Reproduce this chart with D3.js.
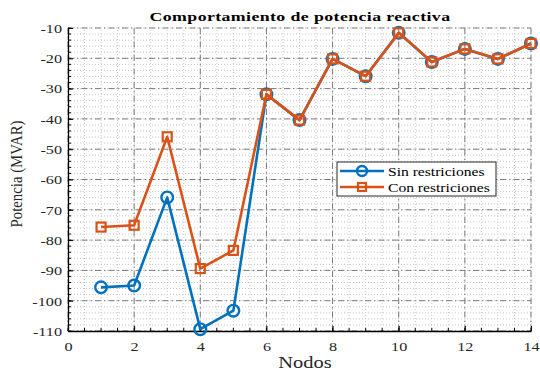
<!DOCTYPE html>
<html>
<head>
<meta charset="utf-8">
<script src="https://cdn.jsdelivr.net/npm/d3@7"></script>
<style>
  body { margin: 0; background: #fff; }
  text { font-family: "Liberation Serif", "Times New Roman", serif; }
</style>
</head>
<body>
<script>
// data
var nodos = [1, 2, 3, 4, 5, 6, 7, 8, 9, 10, 11, 12, 13, 14];
var sinRestr = [-95.6, -95.0, -65.9, -109.4, -103.3, -31.9, -40.4, -20.2, -25.9, -11.6, -21.2, -16.9, -20.2, -15.1];
var conRestr = [-75.7, -75.1, -45.9, -89.4, -83.4, -31.9, -40.4, -20.2, -25.9, -11.6, -21.2, -16.9, -20.2, -15.1];
var xTicks = [0, 2, 4, 6, 8, 10, 12, 14];
var yTicks = [-10, -20, -30, -40, -50, -60, -70, -80, -90, -100, -110];

var w = 540, h = 371;
var margin = { left: 68, right: 9, top: 28, bottom: 40 };
var stretch = 1.2; // reference text is a bit wider than normal

var svg = d3.select("body").append("svg")
    .attr("width", w)
    .attr("height", h);

var x = d3.scaleLinear().domain([0, 14]).range([margin.left, w - margin.right]);
var y = d3.scaleLinear().domain([-110, -10]).range([h - margin.bottom, margin.top]);

var x0 = x.range()[0], x1 = x.range()[1], y0 = y.range()[0], y1 = y.range()[1];

// minor grid (dotted)
var xMinor = d3.range(0, 14.01, 0.5);
var yMinor = d3.range(-110, -9.99, 2);
svg.append("g").selectAll("line").data(xMinor).enter().append("line")
    .attr("x1", d => x(d)).attr("x2", d => x(d))
    .attr("y1", y0).attr("y2", y1)
    .attr("stroke", "#c8c8c8").attr("stroke-width", 1).attr("stroke-dasharray", "1,2");
svg.append("g").selectAll("line").data(yMinor).enter().append("line")
    .attr("x1", x0).attr("x2", x1)
    .attr("y1", d => y(d)).attr("y2", d => y(d))
    .attr("stroke", "#c8c8c8").attr("stroke-width", 1).attr("stroke-dasharray", "1,2");

// major grid (dash-dot)
svg.append("g").selectAll("line").data(xTicks).enter().append("line")
    .attr("x1", d => x(d)).attr("x2", d => x(d))
    .attr("y1", y0).attr("y2", y1)
    .attr("stroke", "#7a7a7a").attr("stroke-width", 1).attr("stroke-dasharray", "6,3,1.5,3");
svg.append("g").selectAll("line").data(yTicks).enter().append("line")
    .attr("x1", x0).attr("x2", x1)
    .attr("y1", d => y(d)).attr("y2", d => y(d))
    .attr("stroke", "#7a7a7a").attr("stroke-width", 1).attr("stroke-dasharray", "6,3,1.5,3");

// axes with ticks pointing inward
var xAxis = d3.axisBottom(x).tickValues(xTicks).tickSize(-5).tickPadding(10).tickSizeOuter(0);
var yAxis = d3.axisLeft(y).tickValues(yTicks).tickSize(-5).tickPadding(6).tickSizeOuter(0)
    .tickFormat(d => String(d)); // plain hyphen like the reference

var gx = svg.append("g").attr("transform", "translate(0," + y0 + ")").call(xAxis);
var gy = svg.append("g").attr("transform", "translate(" + x0 + ",0)").call(yAxis);

// minor ticks
gx.append("g").selectAll("line").data(xMinor).enter().append("line")
    .attr("x1", d => x(d)).attr("x2", d => x(d)).attr("y1", 0).attr("y2", -3)
    .attr("stroke", "#000");
gy.append("g").selectAll("line").data(yMinor).enter().append("line")
    .attr("y1", d => y(d)).attr("y2", d => y(d)).attr("x1", 0).attr("x2", 3)
    .attr("stroke", "#000");

[gx, gy].forEach(function(g) {
    g.select(".domain").attr("stroke", "#000").attr("stroke-width", 1.3);
    g.selectAll(".tick line").attr("stroke", "#000");
    g.selectAll(".tick text").attr("font-size", 13.5).attr("fill", "#262626")
        .style("font-family", "'Liberation Serif', serif");
});
gx.selectAll(".tick text").attr("dy", "0.71em")
    .attr("transform", "scale(" + stretch + ",1)");
gy.selectAll(".tick text")
    .attr("x", -6 / stretch)
    .attr("transform", "scale(" + stretch + ",1)");

// series
var blue = "#0072BD", orange = "#D95319";
var line = d3.line().x((d, i) => x(nodos[i])).y(d => y(d));

function drawSeries(vals, color, shape) {
    svg.append("path").datum(vals)
        .attr("d", line)
        .attr("fill", "none")
        .attr("stroke", color)
        .attr("stroke-width", 2.6)
        .attr("stroke-linejoin", "round");
    var g = svg.append("g");
    if (shape === "circle") {
        g.selectAll("circle").data(vals).enter().append("circle")
            .attr("cx", (d, i) => x(nodos[i])).attr("cy", d => y(d))
            .attr("r", 5.8)
            .attr("fill", "none").attr("stroke", color).attr("stroke-width", 2.4);
    } else {
        g.selectAll("rect").data(vals).enter().append("rect")
            .attr("x", (d, i) => x(nodos[i]) - 4.5).attr("y", d => y(d) - 4.5)
            .attr("width", 9).attr("height", 9)
            .attr("fill", "none").attr("stroke", color).attr("stroke-width", 2.2);
    }
}
drawSeries(sinRestr, blue, "circle");
drawSeries(conRestr, orange, "square");

// title and labels
svg.append("text")
    .attr("transform", "translate(300,21) scale(1.32,1)")
    .attr("text-anchor", "middle")
    .attr("font-size", 13.5).attr("font-weight", "bold")
    .attr("letter-spacing", 0.3)
    .text("Comportamiento de potencia reactiva");

svg.append("text")
    .attr("transform", "translate(305,368) scale(1.28,1)")
    .attr("text-anchor", "middle")
    .attr("font-size", 16).attr("fill", "#262626")
    .text("Nodos");

svg.append("text")
    .attr("transform", "translate(22,174) rotate(-90) scale(1," + stretch + ")")
    .attr("text-anchor", "middle")
    .attr("font-size", 14.8).attr("fill", "#262626")
    .text("Potencia (MVAR)");

// legend
var lg = svg.append("g").attr("transform", "translate(337,162)");
lg.append("rect").attr("width", 159).attr("height", 34)
    .attr("fill", "#fff").attr("stroke", "#262626").attr("stroke-width", 1);
var entries = [
    { name: "Sin restriciones", color: blue, shape: "circle" },
    { name: "Con restriciones", color: orange, shape: "square" }
];
entries.forEach(function(e, i) {
    var yy = 9 + i * 16;
    lg.append("line").attr("x1", 3).attr("x2", 47).attr("y1", yy).attr("y2", yy)
        .attr("stroke", e.color).attr("stroke-width", 2.6);
    if (e.shape === "circle") {
        lg.append("circle").attr("cx", 25).attr("cy", yy).attr("r", 5)
            .attr("fill", "none").attr("stroke", e.color).attr("stroke-width", 2.4);
    } else {
        lg.append("rect").attr("x", 21).attr("y", yy - 4).attr("width", 8).attr("height", 8)
            .attr("fill", "none").attr("stroke", e.color).attr("stroke-width", 2.2);
    }
    lg.append("text")
        .attr("transform", "translate(51," + (yy + 4.5) + ") scale(" + stretch + ",1)")
        .attr("font-size", 13).attr("fill", "#000")
        .text(e.name);
});
</script>
</body>
</html>
